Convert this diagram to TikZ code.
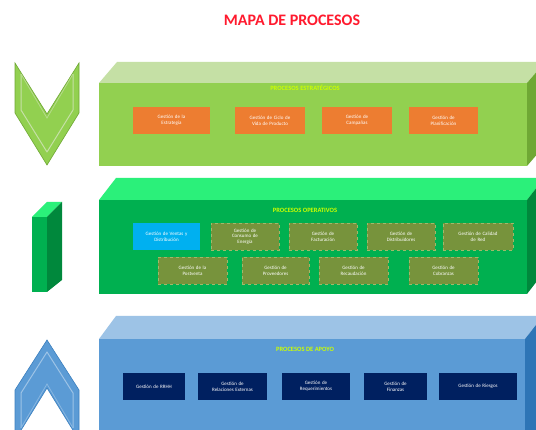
\documentclass[tikz,border=0pt]{standalone}
\usepackage{fontspec}
\setmainfont{Carlito}
\begin{document}
\begin{tikzpicture}[x=1pt,y=-1pt,
  every node/.style={font=\fontsize{5}{5.8}\selectfont, text=white, align=center, inner sep=1pt},
  obox/.style={fill=orangeC, minimum height=27, text width=#1-4, minimum width=#1},
  bbox/.style={fill=blueC, minimum height=27, text width=#1-4, minimum width=#1},
  olbox/.style={fill=oliveC, draw=oliveL, dashed, line width=0.4pt, minimum height=27, text width=#1-4, minimum width=#1},
  nbox/.style={fill=navyC, minimum height=27, text width=#1-4, minimum width=#1},
  lbl/.style={font=\fontsize{6.5}{7}\selectfont\bfseries, text=lime},
]
\definecolor{orangeC}{HTML}{ED7D31}
\definecolor{blueC}{HTML}{00B0F0}
\definecolor{oliveC}{HTML}{77933C}
\definecolor{oliveL}{HTML}{A3B86A}
\definecolor{navyC}{HTML}{002060}
\definecolor{lime}{HTML}{CCFF00}
\definecolor{g1f}{HTML}{92D050}
\definecolor{g1t}{HTML}{C5E0A5}
\definecolor{g1s}{HTML}{6FA834}
\definecolor{g2f}{HTML}{00B050}
\definecolor{g2t}{HTML}{2BF07A}
\definecolor{g2s}{HTML}{00883C}
\definecolor{b3f}{HTML}{5B9BD5}
\definecolor{b3t}{HTML}{9DC3E6}
\definecolor{b3s}{HTML}{2E75B6}
\definecolor{titleC}{HTML}{FF1A2E}

\useasboundingbox (0,0) rectangle (536,430);
\clip (0,0) rectangle (536,430);
\fill[white] (0,0) rectangle (536,430);

% title
\node[font=\fontsize{16}{18}\selectfont\bfseries, text=titleC] (title) at (292,20) {MAPA DE PROCESOS};

% ---------- top block ----------
\fill[g1f] (99,83) rectangle (527,166);
\fill[g1t] (99,83) -- (117,62) -- (545,62) -- (527,83) -- cycle;
\fill[g1s] (527,83) -- (545,62) -- (545,145) -- (527,166) -- cycle;
\node[lbl] (lstr) at (305,88) {PROCESOS ESTRATÉGICOS};
\node[obox=77] (e1) at (171.5,120.5) {Gestión de la\\Estrategia};
\node[obox=70] (e2) at (270,120.5) {Gestión de Ciclo de\\Vida de Producto};
\node[obox=70] (e3) at (357,120.5) {Gestión de\\Campañas};
\node[obox=69] (e4) at (443.5,120.5) {Gestión de\\Planificación};

% ---------- middle block ----------
\fill[g2f] (99,200) rectangle (527,294);
\fill[g2t] (99,200) -- (116,178) -- (544,178) -- (527,200) -- cycle;
\fill[g2s] (527,200) -- (544,178) -- (544,272) -- (527,294) -- cycle;
\node[lbl] (lope) at (305,210) {PROCESOS OPERATIVOS};
\node[bbox=67] (o1) at (166.5,236.5) {Gestión de Ventas y\\Distribución};
\node[olbox=68] (o2) at (245,236.5) {Gestión de\\Consumo de\\Energía};
\node[olbox=68] (o3) at (323,236.5) {Gestión de\\Facturación};
\node[olbox=68] (o4) at (401,236.5) {Gestión de\\Distribuidores};
\node[olbox=70] (o5) at (478,236.5) {Gestión de Calidad\\de Red};
\node[olbox=69] (p1) at (192.5,270.5) {Gestión de la\\Postventa};
\node[olbox=67] (p2) at (275.5,270.5) {Gestión de\\Proveedores};
\node[olbox=69] (p3) at (353.5,270.5) {Gestión de\\Recaudación};
\node[olbox=69] (p4) at (443.5,270.5) {Gestión de\\Cobranzas};

% ---------- bottom block ----------
\fill[b3f] (99,339) rectangle (525,440);
\fill[b3t] (99,339) -- (116,316) -- (543,316) -- (525,339) -- cycle;
\fill[b3s] (525,339) -- (543,316) -- (543,440) -- (525,440) -- cycle;
\node[lbl] (lapo) at (305,349) {PROCESOS DE APOYO};
\node[nbox=62] (s1) at (154,386.5) {Gestión de RRHH};
\node[nbox=69] (s2) at (232.5,386.5) {Gestión de\\Relaciones Externas};
\node[nbox=68] (s3) at (316,386.5) {Gestión de\\Requerimientos};
\node[nbox=63] (s4) at (395.5,386.5) {Gestión de\\Finanzas};
\node[nbox=78] (s5) at (478,386.5) {Gestión de Riesgos};

% ---------- left icons ----------
% down chevron
\fill[g1f, draw=g1s, line width=0.6pt] (15,63) -- (47,114) -- (79,63) -- (79,113) -- (47,165) -- (15,113) -- cycle;
\draw[g1t, line width=1pt, line join=round] (21,74) -- (21,110) -- (47,152) -- (73,110) -- (73,74);
\draw[g1t!70!g1f, line width=0.8pt] (21,74) -- (47,118) -- (73,74);

% green bar (cuboid)
\fill[g2f] (32,217) rectangle (47,292);
\fill[g2t] (32,217) -- (47,217) -- (62,202) -- (47,202) -- cycle;
\fill[g2s] (47,217) -- (62,202) -- (62,280) -- (47,292) -- cycle;

% up chevron
\fill[b3f, draw=b3s!70!b3f, line width=0.6pt] (47,340) -- (79,390) -- (79,440) -- (47,388) -- (15,440) -- (15,390) -- cycle;
\draw[b3t, line width=1pt, line join=round] (21,428) -- (21,393) -- (47,352) -- (73,393) -- (73,428);
\draw[b3t!70!b3f, line width=0.8pt] (21,428) -- (47,384) -- (73,428);
\end{tikzpicture}
\end{document}
